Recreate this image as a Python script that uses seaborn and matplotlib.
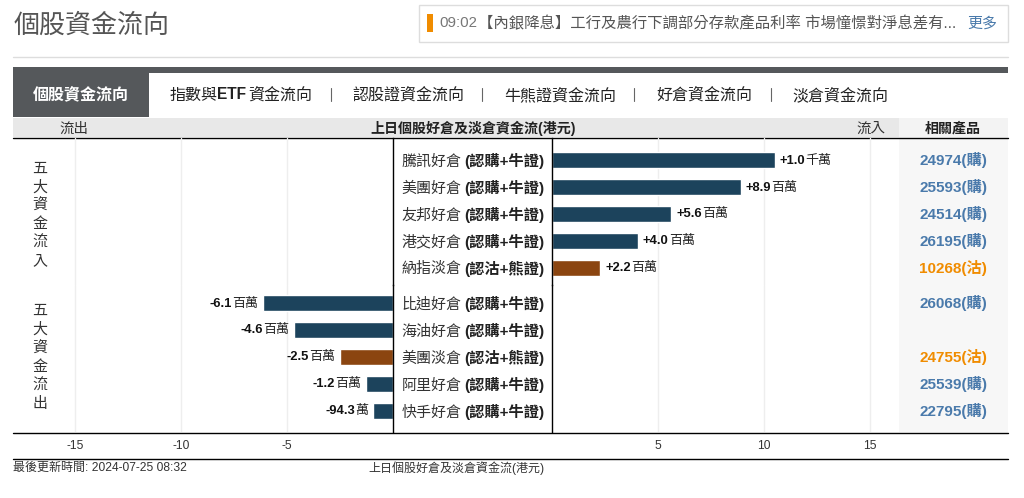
import matplotlib.pyplot as plt
from matplotlib.patches import Rectangle
import seaborn as sns

# Values in millions of HKD
inflow_names = ['騰訊好倉', '美團好倉', '友邦好倉', '港交好倉', '納指淡倉']
inflow_types = ['(認購+牛證)', '(認購+牛證)', '(認購+牛證)', '(認購+牛證)', '(認沽+熊證)']
inflow_values = [10.5, 8.9, 5.6, 4.04, 2.25]
inflow_numbers = ['+1.0', '+8.9', '+5.6', '+4.0', '+2.2']
inflow_units = ['千萬', '百萬', '百萬', '百萬', '百萬']
inflow_products = ['24974(購)', '25593(購)', '24514(購)', '26195(購)', '10268(沽)']

outflow_names = ['比迪好倉', '海油好倉', '美團淡倉', '阿里好倉', '快手好倉']
outflow_types = ['(認購+牛證)', '(認購+牛證)', '(認沽+熊證)', '(認購+牛證)', '(認購+牛證)']
outflow_values = [-6.13, -4.67, -2.5, -1.29, -0.96]
outflow_numbers = ['-6.1', '-4.6', '-2.5', '-1.2', '-94.3']
outflow_units = ['百萬', '百萬', '百萬', '百萬', '萬']
outflow_products = ['26068(購)', '', '24755(沽)', '25539(購)', '22795(購)']

left_ticks = [-15, -10, -5]
right_ticks = [5, 10, 15]

tabs = ['認股證資金流向', '牛熊證資金流向', '好倉資金流向', '淡倉資金流向']
tab_x = [352, 504, 656, 792]
sep_x = [331, 482, 634, 771]

NAVY = '#1c435c'
BROWN = '#8b4510'
BLUE = '#4a7aab'
ORANGE = '#f08c00'
W, H = 1024, 498
FONT = ['Liberation Sans', 'Noto Sans CJK TC', 'DejaVu Sans']


def px(size):
    return size * 0.72


sns.set_theme(style='white')
plt.rcParams['font.family'] = FONT
plt.rcParams['text.color'] = '#222222'
plt.rcParams['axes.unicode_minus'] = False

fig = plt.figure(figsize=(W / 100, H / 100), dpi=100, facecolor='white')

# page furniture, drawn in pixel coordinates
page = fig.add_axes([0, 0, 1, 1], zorder=0)
page.set_xlim(0, W)
page.set_ylim(H, 0)
page.axis('off')


def box(x0, y0, x1, y1, color, **kw):
    page.add_patch(Rectangle((x0, y0), x1 - x0, y1 - y0, facecolor=color, edgecolor='none', **kw))


def txt(x, y, s, size, color='#222222', weight='normal', ha='left'):
    page.text(x, y, s, fontsize=px(size), color=color, fontweight=weight, ha=ha, va='center')


txt(14, 25.5, '個股資金流向', 26, '#555555')
page.add_patch(Rectangle((418.5, 4.5), 589, 37, facecolor='white', edgecolor='#dddddd', lw=1))
box(427, 14, 433, 32, ORANGE)
txt(439, 23, '09:02', 15, '#777777')
txt(478, 24, '【內銀降息】工行及農行下調部分存款產品利率 市場憧憬對淨息差有...', 15.4, '#555555')
txt(967, 24, '更多', 15, BLUE)
page.plot([13, 1008], [56.5, 56.5], color='#dddddd', lw=1)

box(13, 67, 1008, 73, '#55585b')
box(13, 67, 149, 117, '#55585b')
txt(81, 95, '個股資金流向', 16, 'white', 'bold', 'center')
txt(170, 95, '指數與', 16)
txt(217, 94, 'ETF', 15.5, '#222222', 'bold')
txt(248, 95, '資金流向', 16)
for x, s in zip(tab_x, tabs):
    txt(x, 95, s, 16)
for x in sep_x:
    page.plot([x, x], [88, 101], color='#666666', lw=0.8)

box(13, 118, 899, 137, '#e8e8e8')
box(899, 118, 1008, 137, '#f3f3f3')
box(899, 138, 1008, 432, '#f7f7f7')
txt(74, 129, '流出', 14.5, '#333333', 'normal', 'center')
txt(473, 128, '上日個股好倉及淡倉資金流(港元)', 14, '#222222', 'bold', 'center')
txt(871, 129, '流入', 14.5, '#333333', 'normal', 'center')
txt(953, 128, '相關產品', 14, '#222222', 'bold', 'center')
page.plot([13, 1008], [137.5, 137.5], color='black', lw=1)
page.plot([13, 1008], [432.5, 432.5], color='black', lw=1)
page.plot([13, 1008], [458.5, 458.5], color='black', lw=1)

page.text(40, 215, '\n'.join('五大資金流入'), fontsize=px(15), color='#333333',
          ha='center', va='center', linespacing=1.4)
page.text(40, 357.5, '\n'.join('五大資金流出'), fontsize=px(15), color='#333333',
          ha='center', va='center', linespacing=1.4)
txt(13, 468, '最後更新時間: 2024-07-25 08:32', 12, '#333333')
txt(368, 468, '上日個股好倉及淡倉資金流(港元)', 12, '#333333')


def make_axes(x0, x1, y0, y1):
    ax = fig.add_axes([x0 / W, 1 - y1 / H, (x1 - x0) / W, (y1 - y0) / H], zorder=1)
    ax.patch.set_alpha(0)
    return ax


def style_axes(ax, xlim, ylim, ticks, spine, show_labels):
    ax.set_xlim(*xlim)
    ax.set_ylim(*ylim)
    ax.set_xticks(ticks)
    ax.set_yticks([])
    ax.set_xlabel('')
    ax.set_ylabel('')
    ax.set_axisbelow(True)
    ax.grid(axis='x', color='#eeeeee', lw=1)
    ax.tick_params(axis='x', length=0, pad=6, labelsize=px(12), labelcolor='#333333',
                   labelbottom=show_labels)
    for name, s in ax.spines.items():
        s.set_visible(name == spine)
        s.set_color('black')
        s.set_linewidth(1)


def draw_bars(ax, values, names, types):
    colors = [BROWN if t == '(認沽+熊證)' else NAVY for t in types]
    sns.barplot(x=values, y=names, hue=names, palette=colors, legend=False,
                width=0.593, saturation=1, ax=ax)


def row_text(left_ax, right_ax, names, types):
    for i, (n, t) in enumerate(zip(names, types)):
        left_ax.annotate(n, xy=(0, i), xytext=(8, -1.5), textcoords='offset pixels', ha='left',
                         va='center', fontsize=px(15), color='#333333', annotation_clip=False)
        right_ax.annotate(t, xy=(0, i), xytext=(-8, -1), textcoords='offset pixels', ha='right',
                          va='center', fontsize=px(15.2), fontweight='bold', color='#222222',
                          annotation_clip=False)


def value_text(ax, values, numbers, units):
    for i, (v, n, u) in enumerate(zip(values, numbers, units)):
        if v > 0:
            first = ax.annotate(n, xy=(v, i), xytext=(5, -0.5), textcoords='offset pixels', ha='left',
                                va='center', fontsize=px(13), fontweight='bold', color='#111111')
            ax.annotate(u, xy=(1, 0.5), xycoords=first, ha='left', va='center',
                        fontsize=px(13), color='#222222')
        else:
            first = ax.annotate(u, xy=(v, i), xytext=(-5, -0.5), textcoords='offset pixels', ha='right',
                                va='center', fontsize=px(13), color='#222222')
            ax.annotate(n, xy=(0, 0.5), xycoords=first, ha='right', va='center',
                        fontsize=px(13), fontweight='bold', color='#111111')


def product_text(ax, products):
    for i, p in enumerate(products):
        color = ORANGE if '沽' in p else BLUE
        ax.annotate(p, xy=(1.156, i), xycoords=ax.get_yaxis_transform(), ha='center', va='center',
                    fontsize=px(15.2), fontweight='bold', color=color, annotation_clip=False)


ZERO_L, ZERO_R, UNIT = 393.3, 552.3, 21.2
LEFT_LIM = ((13 - ZERO_L) / UNIT, 0)
RIGHT_LIM = (0, (899 - ZERO_R) / UNIT)
TOP_LIM = (4.63, -0.815)
BOTTOM_LIM = (4.78, -0.667)

ax_tl = make_axes(13, ZERO_L, 138, 285)
ax_tr = make_axes(ZERO_R, 899, 138, 285)
ax_bl = make_axes(13, ZERO_L, 285, 432)
ax_br = make_axes(ZERO_R, 899, 285, 432)

draw_bars(ax_tr, inflow_values, inflow_names, inflow_types)
draw_bars(ax_bl, outflow_values, outflow_names, outflow_types)

style_axes(ax_tl, LEFT_LIM, TOP_LIM, left_ticks, 'right', False)
style_axes(ax_tr, RIGHT_LIM, TOP_LIM, right_ticks, 'left', False)
style_axes(ax_bl, LEFT_LIM, BOTTOM_LIM, left_ticks, 'right', True)
style_axes(ax_br, RIGHT_LIM, BOTTOM_LIM, right_ticks, 'left', True)

row_text(ax_tl, ax_tr, inflow_names, inflow_types)
row_text(ax_bl, ax_br, outflow_names, outflow_types)
value_text(ax_tr, inflow_values, inflow_numbers, inflow_units)
value_text(ax_bl, outflow_values, outflow_numbers, outflow_units)
product_text(ax_tr, inflow_products)
product_text(ax_br, outflow_products)

fig.savefig('out.png', dpi=100)
